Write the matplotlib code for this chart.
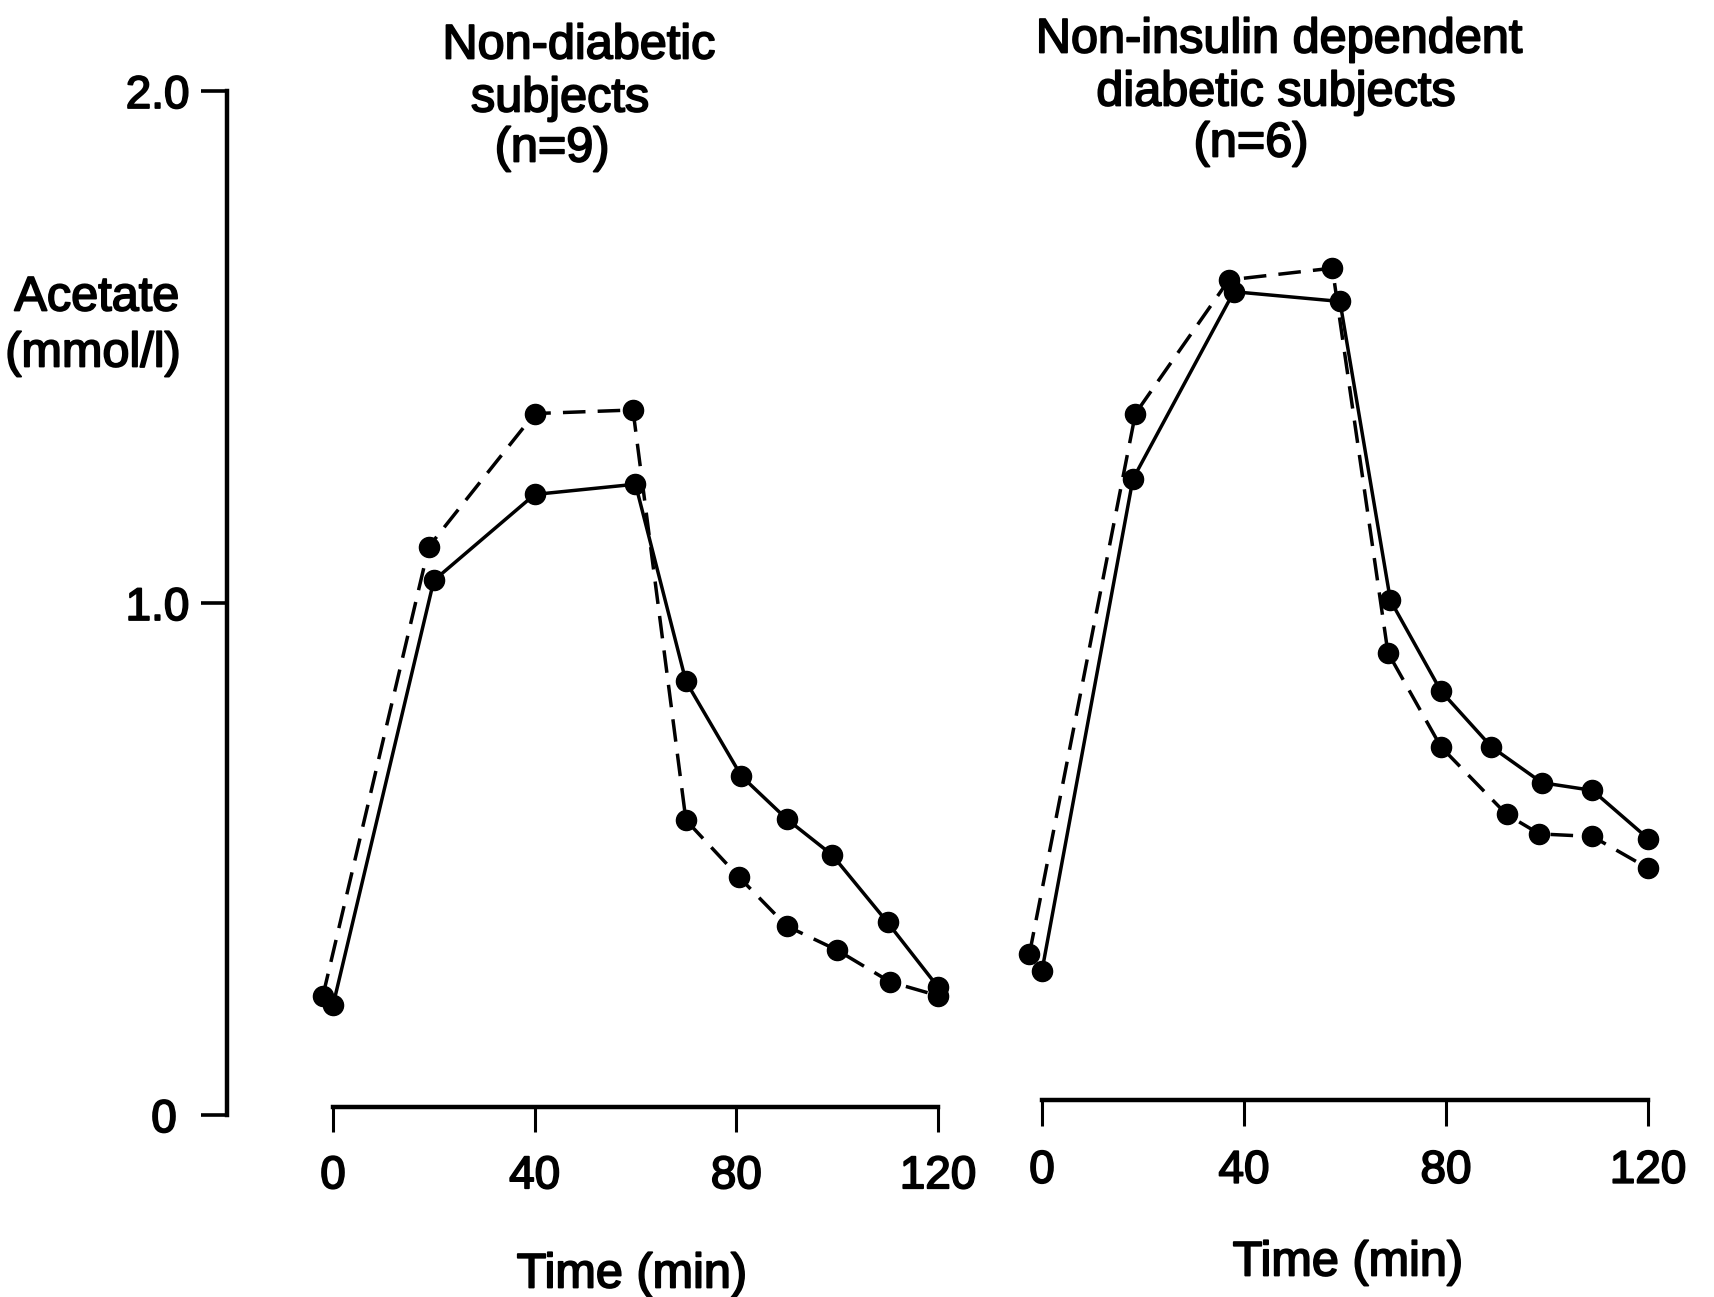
import matplotlib
matplotlib.use("Agg")
import matplotlib.pyplot as plt
import matplotlib.patheffects as pe

plt.rcParams['font.family'] = ['Liberation Sans', 'DejaVu Sans']

# ---- data ----
x_ticks = [0, 40, 80, 120]
y_ticks = [0, 1.0, 2.0]
y_tick_labels = ["0 ", "1.0", "2.0"]

# Non-diabetic subjects (n=9)
nd_t_solid = [0, 20, 40, 60, 70, 81, 90, 99, 110, 120]
nd_v_solid = [0.214, 1.044, 1.212, 1.232, 0.847, 0.662, 0.578, 0.508, 0.376, 0.250]
nd_t_dash = [-2, 19, 40, 59.5, 70, 80.5, 90, 100, 110.5, 120]
nd_v_dash = [0.233, 1.110, 1.370, 1.377, 0.576, 0.465, 0.369, 0.322, 0.260, 0.233]

# Non-insulin dependent diabetic subjects (n=6)
niddm_t_solid = [0, 18, 38, 59, 69, 79, 89, 99, 109, 120]
niddm_v_solid = [0.282, 1.242, 1.608, 1.589, 1.005, 0.828, 0.719, 0.649, 0.634, 0.540]
niddm_t_dash = [-2.5, 18.5, 37, 57.5, 68.5, 79, 92, 98.5, 109, 120]
niddm_v_dash = [0.314, 1.370, 1.631, 1.654, 0.903, 0.719, 0.587, 0.549, 0.544, 0.482]

W, H = 1714, 1297
fig = plt.figure(figsize=(W / 100, H / 100), dpi=100)

def fx(px):
    return px / W

def fy(py):
    return 1 - py / H

Y0, Y2 = 1115, 91  # pixel rows of y=0 and y=2.0
bold = [pe.withStroke(linewidth=1.3, foreground='black')]

def make_axes(left_px, right_px, x0_px, x120_px):
    ppm = (x120_px - x0_px) / 120.0
    xmin = -(x0_px - left_px) / ppm
    xmax = 120 + (right_px - x120_px) / ppm
    ax = fig.add_axes([fx(left_px), fy(Y0), (right_px - left_px) / W, (Y0 - Y2) / H])
    ax.set_xlim(xmin, xmax)
    ax.set_ylim(0, 2.0)
    ax.patch.set_alpha(0)
    for s in ['top', 'right']:
        ax.spines[s].set_visible(False)
    return ax

FS = 33
lw_line = 2.5
ms = 14.5
dash = (0, (6.5, 3.5))

# left panel
ax1 = make_axes(227, 960, 333, 938)
ax1.plot(nd_t_solid, nd_v_solid, color='black', lw=lw_line, marker='o', ms=ms, clip_on=False)
ax1.plot(nd_t_dash, nd_v_dash, color='black', lw=lw_line, ls=dash, marker='o', ms=ms, clip_on=False)
ax1.spines['left'].set_linewidth(3.2)
ax1.spines['left'].set_bounds(0, 2.0)
ax1.set_yticks(y_ticks)
ax1.set_yticklabels(y_tick_labels)
ax1.tick_params(axis='y', direction='out', length=19, width=2.6, pad=8, labelsize=FS)
ax1.spines['bottom'].set_position(('data', 0.0156))
ax1.spines['bottom'].set_bounds(0, 120)
ax1.spines['bottom'].set_linewidth(3.2)
ax1.set_xticks(x_ticks)
ax1.tick_params(axis='x', direction='out', length=18, width=2.2, pad=16, labelsize=FS)

# right panel
ax2 = make_axes(985, 1700, 1042, 1648)
ax2.plot(niddm_t_solid, niddm_v_solid, color='black', lw=lw_line, marker='o', ms=ms, clip_on=False)
ax2.plot(niddm_t_dash, niddm_v_dash, color='black', lw=lw_line, ls=dash, marker='o', ms=ms, clip_on=False)
ax2.spines['left'].set_visible(False)
ax2.set_yticks([])
ax2.spines['bottom'].set_position(('data', 0.029))
ax2.spines['bottom'].set_bounds(0, 120)
ax2.spines['bottom'].set_linewidth(3.2)
ax2.set_xticks(x_ticks)
ax2.tick_params(axis='x', direction='out', length=19, width=2.2, pad=16, labelsize=FS)

for ax in (ax1, ax2):
    for lab in ax.get_xticklabels() + ax.get_yticklabels():
        lab.set_path_effects(bold)

# texts
def t(px, py, s, ha='center'):
    fig.text(fx(px), fy(py + 4), s, ha=ha, va='center', fontsize=FS + 2,
             color='black', path_effects=bold)

t(579, 42, "Non-diabetic")
t(560, 95, "subjects")
t(552, 145, "(n=9)")
t(1279, 36, "Non-insulin dependent")
t(1276, 89, "diabetic subjects")
t(1251, 140, "(n=6)")
t(97, 294, "Acetate")
t(93, 350, "(mmol/l)")
t(632, 1271, "Time (min)")
t(1348, 1259, "Time (min)")

fig.savefig("out.png", dpi=100)
